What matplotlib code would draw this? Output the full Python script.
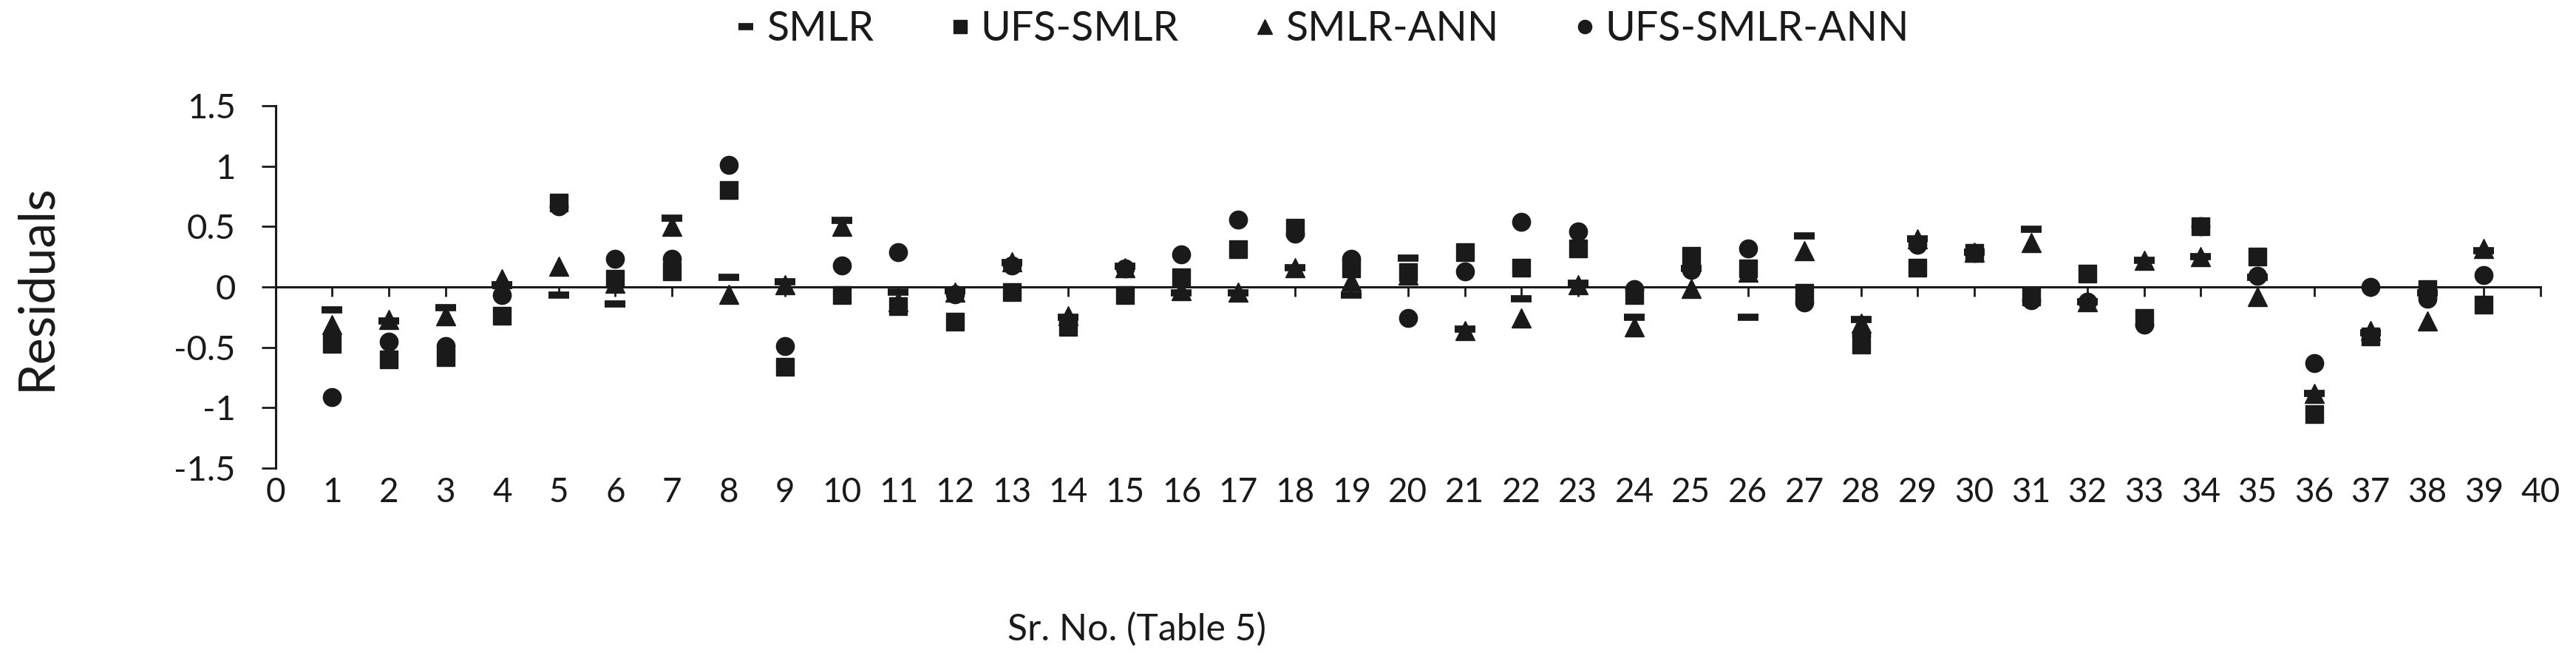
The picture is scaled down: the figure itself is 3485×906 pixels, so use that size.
import matplotlib
matplotlib.use("Agg")
import matplotlib.pyplot as plt

plt.rcParams['font.family'] = ['Lato', 'DejaVu Sans']

# Sr. No. (Table 5)
sr_no = list(range(1, 40))

# residuals
smlr = [-0.19, -0.28, -0.17, 0.02, -0.07, -0.14, 0.57, 0.08, 0.04, 0.55,
        -0.04, -0.03, 0.20, -0.25, 0.17, -0.05, -0.05, 0.16, -0.07, 0.24,
        -0.35, -0.10, 0.03, -0.25, 0.15, -0.25, 0.42, -0.27, 0.40, 0.29,
        0.48, -0.12, 0.22, 0.25, 0.08, -0.88, -0.38, -0.05, 0.30]
ufs_smlr = [-0.47, -0.60, -0.58, -0.24, 0.70, 0.07, 0.13, 0.80, -0.66, -0.07,
            -0.16, -0.29, -0.04, -0.33, -0.07, 0.08, 0.31, 0.49, 0.15, 0.12,
            0.29, 0.16, 0.32, -0.07, 0.26, 0.15, -0.05, -0.48, 0.16, 0.28,
            -0.08, 0.11, -0.26, 0.50, 0.25, -1.05, -0.41, -0.02, -0.15]
smlr_ann = [-0.31, -0.27, -0.24, 0.07, 0.17, 0.03, 0.50, -0.06, 0.02, 0.50,
            -0.12, -0.04, 0.21, -0.24, 0.16, -0.03, -0.04, 0.16, 0.05, 0.10,
            -0.36, -0.26, 0.02, -0.33, -0.01, 0.12, 0.30, -0.30, 0.40, 0.29,
            0.37, -0.12, 0.22, 0.25, -0.08, -0.88, -0.36, -0.28, 0.32]
ufs_smlr_ann = [-0.91, -0.45, -0.49, -0.07, 0.67, 0.23, 0.23, 1.01, -0.49, 0.18,
                0.29, -0.06, 0.18, -0.30, 0.15, 0.27, 0.56, 0.44, 0.23, -0.26,
                0.13, 0.54, 0.46, -0.02, 0.14, 0.32, -0.13, -0.40, 0.35, 0.28,
                -0.11, -0.12, -0.31, 0.50, 0.09, -0.63, 0.00, -0.10, 0.10]

x_ticks = list(range(0, 41))
y_ticks = [-1.5, -1, -0.5, 0, 0.5, 1, 1.5]
y_labels = ['-1.5', '-1', '-0.5', '0', '0.5', '1', '1.5']

ink = '#1a1a1a'

fig = plt.figure(figsize=(34.85, 9.06), dpi=100)
ax = fig.add_axes([0.107, 0.3013, 0.8792, 0.5409])

ax.plot(sr_no, smlr, linestyle='none', marker='_', ms=20, mew=7, color=ink, label='SMLR')
ax.plot(sr_no, ufs_smlr, linestyle='none', marker='s', ms=17, color=ink, label='UFS-SMLR')
ax.plot(sr_no, smlr_ann, linestyle='none', marker='^', ms=19, color=ink, label='SMLR-ANN')
ax.plot(sr_no, ufs_smlr_ann, linestyle='none', marker='o', ms=17.5, color=ink, label='UFS-SMLR-ANN')

ax.set_xlim(0, 40)
ax.set_ylim(-1.5, 1.5)
ax.spines['top'].set_visible(False)
ax.spines['right'].set_visible(False)
ax.spines['bottom'].set_position(('data', 0))
for s in ['left', 'bottom']:
    ax.spines[s].set_linewidth(2.2)
    ax.spines[s].set_color(ink)

ax.set_xticks(x_ticks)
ax.set_xticklabels([str(t) for t in x_ticks])
ax.set_yticks(y_ticks)
ax.set_yticklabels(y_labels)
ax.tick_params(axis='x', direction='out', length=9, width=2, color=ink,
               labelsize=33, pad=176, labelcolor=ink)
ax.tick_params(axis='y', direction='out', length=14, width=2, color=ink,
               labelsize=34, pad=25, labelcolor=ink)

fig.text(0.014, 0.571, 'Residuals', rotation=90, ha='center', va='center',
         fontsize=49, color=ink)
fig.text(0.4413, 0.0607, 'Sr. No. (Table 5)', ha='center', va='center',
         fontsize=36, color=ink)

fig.legend(loc='center', bbox_to_anchor=(0.513, 0.956), ncol=4, frameon=False,
           fontsize=40, handlelength=0.6, handletextpad=0.2, columnspacing=1.8,
           markerscale=0.75, labelcolor=ink)

fig.savefig('out.png', dpi=100)
